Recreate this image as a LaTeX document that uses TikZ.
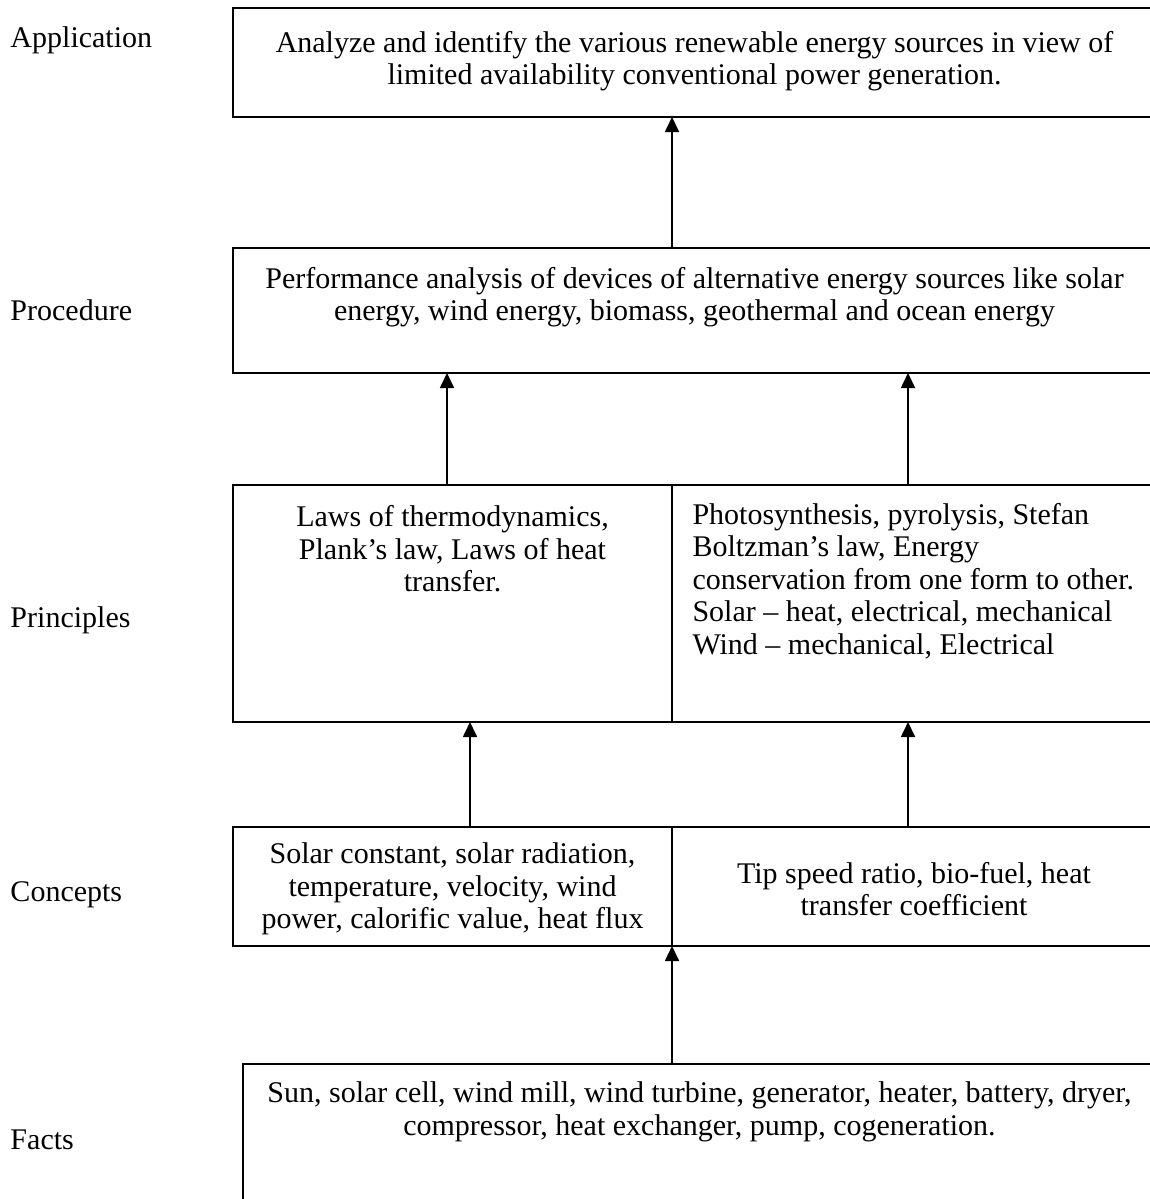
\documentclass[tikz,border=0pt]{standalone}
\usepackage{fontspec}
\setmainfont{Liberation Serif}
\usetikzlibrary{arrows.meta,positioning}

\begin{document}
\begin{tikzpicture}[x=0.4pt, y=-0.4pt,
    lvlbox/.style={rectangle, draw, line width=0.7pt, inner sep=0pt, outer sep=0pt, anchor=north west},
    lvltext/.style={align=center, inner sep=0pt, font=\fontsize{12}{13}\selectfont},
    lvlname/.style={anchor=west, inner sep=0pt, font=\fontsize{12}{13}\selectfont},
    uparrow/.style={-{Triangle[width=5.6pt,length=6pt]}, line width=0.7pt}]

    \useasboundingbox (0,0) rectangle (1150,1199);

    % level names
    \node[lvlname] (nApp) at (10,40) {Application};
    \node[lvlname] (nProc) at (10,310) {Procedure};
    \node[lvlname] (nPrin) at (10,620) {Principles};
    \node[lvlname] (nConc) at (10,895) {Concepts};
    \node[lvlname] (nFact) at (10,1140) {Facts};

    % boxes
    \node[lvlbox, minimum width=369.2pt, minimum height=43.6pt] (app) at (233,8) {};
    \node[lvlbox, minimum width=369.2pt, minimum height=50pt] (proc) at (233,248) {};
    \node[lvlbox, minimum width=175.6pt, minimum height=94.8pt] (prinL) at (233,485) {};
    \node[lvlbox, minimum width=193.6pt, minimum height=94.8pt, right=0pt of prinL] (prinR) {};
    \node[lvlbox, minimum width=175.6pt, minimum height=47.6pt] (concL) at (233,827) {};
    \node[lvlbox, minimum width=193.6pt, minimum height=47.6pt, right=0pt of concL] (concR) {};
    \node[lvlbox, minimum width=365.2pt, minimum height=56.4pt] (facts) at (243,1064) {};

    % texts
    \node[lvltext] (tApp) at (app.north |- 0,61) {Analyze and identify the various renewable energy sources in view of\\limited availability conventional power generation.};
    \node[lvltext] (tProc) at (proc.north |- 0,297) {Performance analysis of devices of alternative energy sources like solar\\energy, wind energy, biomass, geothermal and ocean energy};
    \node[lvltext] (tPrinL) at (prinL.north |- 0,549) {Laws of thermodynamics,\\Plank’s law, Laws of heat\\transfer.};
    \node[lvltext, align=left, anchor=west] (tPrinR) at (692,581) {Photosynthesis, pyrolysis, Stefan\\Boltzman’s law, Energy\\conservation from one form to other.\\Solar -- heat, electrical, mechanical\\Wind -- mechanical, Electrical};
    \node[lvltext] (tConcL) at (concL.north |- 0,889) {Solar constant, solar radiation,\\temperature, velocity, wind\\power, calorific value, heat flux};
    \node[lvltext] (tConcR) at (concR.north |- 0,889) {Tip speed ratio, bio-fuel, heat\\transfer coefficient};
    \node[lvltext] (tFact) at (facts.north |- 0,1112) {Sun, solar cell, wind mill, wind turbine, generator, heater, battery, dryer,\\compressor, heat exchanger, pump, cogeneration.};

    % arrows
    \coordinate (a1) at ([xshift=-2.2pt]prinL.north);
    \coordinate (a2) at ([xshift=-2.4pt]prinR.north);
    \coordinate (a3) at ([xshift=7pt]concL.north);
    \coordinate (a4) at ([xshift=-2.4pt]concR.north);

    \draw[uparrow] (proc.north -| prinL.east) -- (app.south -| prinL.east);
    \draw[uparrow] (a1) -- (a1 |- proc.south);
    \draw[uparrow] (a2) -- (a2 |- proc.south);
    \draw[uparrow] (a3) -- (a3 |- prinL.south);
    \draw[uparrow] (a4) -- (a4 |- prinR.south);
    \draw[uparrow] (facts.north -| concL.east) -- (concL.south east);

\end{tikzpicture}
\end{document}
